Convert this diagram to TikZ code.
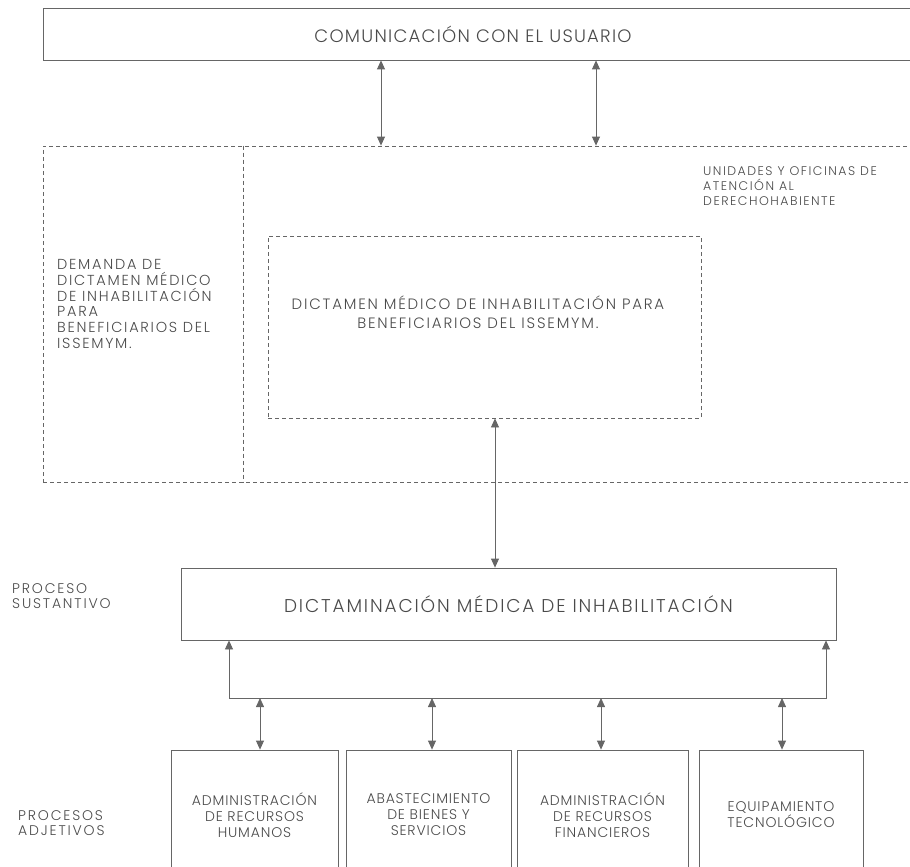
\documentclass[tikz,border=0pt]{standalone}
\usepackage{fontspec}
\setmainfont{Poppins Light}
\usetikzlibrary{arrows.meta}
\definecolor{linegray}{HTML}{666666}
\definecolor{textgray}{HTML}{4A4A4A}
\newcommand{\txtsize}[3]{\fontsize{#1}{#2}\selectfont\addfontfeatures{LetterSpace=#3}}

\begin{document}
\begin{tikzpicture}[x=1pt,y=-1pt,
    box/.style={draw=linegray, line width=0.8pt, inner sep=0pt, text=textgray},
    dbox/.style={box, dash pattern=on 4pt off 3pt},
    lbl/.style={text=textgray, inner sep=0pt},
    biarrow/.style={draw=linegray, line width=0.8pt,
        {Triangle[length=9pt,width=8pt]}-{Triangle[length=9pt,width=8pt]}}]
    \useasboundingbox (0,0) rectangle (910,867);
    \clip (0,0) rectangle (910,867);

    % usuario
    \node[box, minimum width=880, minimum height=52] (usuario) at (483,34) {};
    \node[lbl, font=\txtsize{18}{20}{7}] (usuariotxt) at (473,34) {COMUNICACIÓN CON EL USUARIO};

    % unidades de atencion
    \node[dbox, minimum width=880, minimum height=336] (unidades) at (483,314) {};
    \coordinate (divide) at (243,0);
    \draw[linegray, line width=0.8pt, dash pattern=on 4pt off 3pt]
        (unidades.north -| divide) -- (unidades.south -| divide);

    \node[lbl, anchor=west, align=left, font=\txtsize{14.5}{15.8}{12}] (demanda) at (57,304)
        {DEMANDA DE\\DICTAMEN MÉDICO\\DE INHABILITACIÓN\\PARA\\BENEFICIARIOS DEL\\ISSEMYM.};
    \node[lbl, anchor=north west, align=left, font=\txtsize{12.5}{15}{12}] (oficinas) at (703,166)
        {UNIDADES Y OFICINAS DE\\ATENCIÓN AL\\DERECHOHABIENTE};

    \node[dbox, minimum width=433, minimum height=182] (dictamen) at (484.5,327) {};
    \node[lbl, align=center, font=\txtsize{15}{19}{12}] (dictamentxt) at (478,312)
        {DICTAMEN MÉDICO DE INHABILITACIÓN PARA\\BENEFICIARIOS DEL ISSEMYM.};

    \coordinate (a1) at (381,0);
    \coordinate (a2) at (596,0);
    \draw[biarrow] (usuario.south -| a1) -- (unidades.north -| a1);
    \draw[biarrow] (usuario.south -| a2) -- (unidades.north -| a2);

    % proceso sustantivo
    \node[box, minimum width=655, minimum height=72, font=\txtsize{18.5}{22}{10}] (dictaminacion) at (508.5,604)
        {DICTAMINACIÓN MÉDICA DE INHABILITACIÓN};
    \node[lbl, anchor=west, align=left, font=\txtsize{14}{15}{13}] (sustantivo) at (12,596)
        {PROCESO\\SUSTANTIVO};
    \coordinate (a3) at (495,0);
    \draw[biarrow] (dictamen.south -| a3) -- (dictaminacion.north -| a3);

    \coordinate (busl) at (229,698);
    \coordinate (busr) at (826,698);
    \draw[biarrow] (dictaminacion.south -| busl) -- (busl) -- (busr) -- (dictaminacion.south -| busr);

    % procesos adjetivos
    \node[lbl, anchor=west, align=left, font=\txtsize{14}{15}{13}] (adjetivos) at (18,823)
        {PROCESOS\\ADJETIVOS};
    \foreach \n/\cx/\w/\ax/\txt in {
        rh/254.5/167/260/{ADMINISTRACIÓN\\DE RECURSOS\\HUMANOS},
        bs/428.5/165/432/{ABASTECIMIENTO\\DE BIENES Y\\SERVICIOS},
        rf/602.5/171/601/{ADMINISTRACIÓN\\DE RECURSOS\\FINANCIEROS},
        et/781/164/782/{EQUIPAMIENTO\\TECNOLÓGICO}} {
        \node[box, minimum width=\w, minimum height=130, align=center,
            font=\txtsize{14}{16}{6}] (\n) at (\cx,815) {\txt};
        \coordinate (c\n) at (\ax,698);
        \draw[biarrow] (c\n) -- (\n.north -| c\n);
    }
\end{tikzpicture}
\end{document}
